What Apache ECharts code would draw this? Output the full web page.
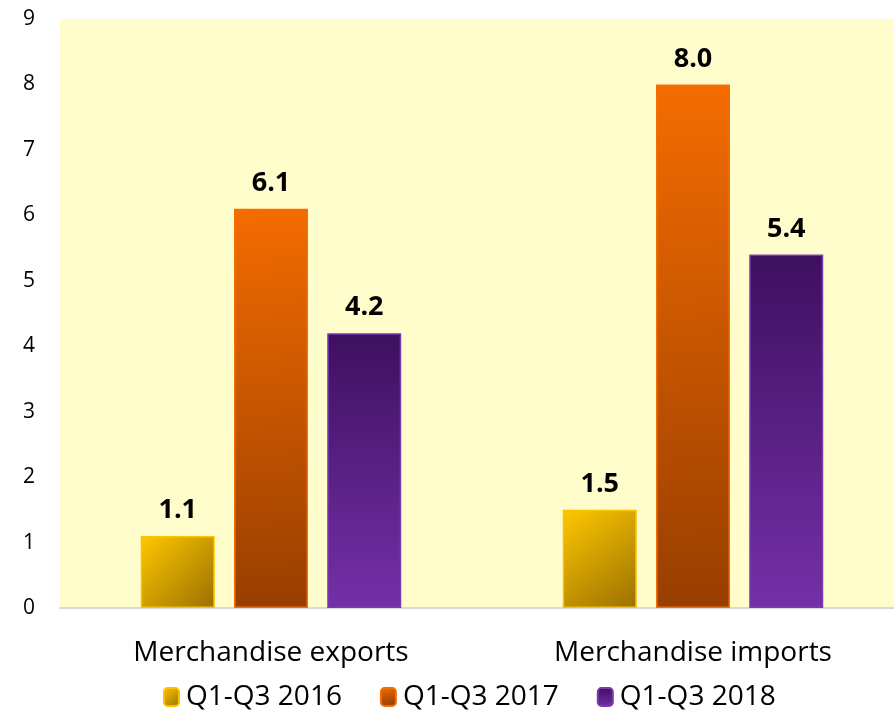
<!DOCTYPE html>
<html lang="en">
<head>
  <meta charset="UTF-8">
  <title>Merchandise trade</title>
  <style>
    html, body { margin: 0; padding: 0; background: #fff; }
    #chart { width: 894px; height: 712px; }
  </style>
</head>
<body>
  <div id="chart"></div>
  <script src="https://cdn.jsdelivr.net/npm/echarts@6/dist/echarts.min.js"></script>
  <script>
    const categories = ['Merchandise exports', 'Merchandise imports']
    const seriesNames = ['Q1-Q3 2016', 'Q1-Q3 2017', 'Q1-Q3 2018']
    const values2016 = [1.1, 1.5]
    const values2017 = [6.1, 8.0]
    const values2018 = [4.2, 5.4]

    const font = '"Open Sans", "Noto Sans", sans-serif'

    // gradients for each series
    const fills = [
      new echarts.graphic.LinearGradient(0, 0, 1, 1, [
        { offset: 0, color: '#ffc800' },
        { offset: 1, color: '#9a7000' }
      ]),
      new echarts.graphic.LinearGradient(0, 0, 0.3, 1, [
        { offset: 0, color: '#f46c00' },
        { offset: 1, color: '#983e00' }
      ]),
      new echarts.graphic.LinearGradient(0, 0, 0, 1, [
        { offset: 0, color: '#3e1060' },
        { offset: 1, color: '#7430a8' }
      ])
    ]
    const borders = ['#ffc000', '#f07000', '#7a3aaa']

    const data = [values2016, values2017, values2018]

    const chart = echarts.init(document.getElementById('chart'))

    chart.setOption({
      animation: false,
      grid: {
        left: 60, width: 844, top: 19, bottom: 104,
        outerBoundsMode: 'none',
        show: true, backgroundColor: '#fffdcc', borderWidth: 0
      },
      legend: {
        top: 678,
        left: 158,
        itemWidth: 15, itemHeight: 18,
        itemGap: 38,
        textStyle: { fontFamily: font, fontSize: 28, color: '#000', padding: [0, 0, 0, 2] },
        data: seriesNames
      },
      xAxis: {
        type: 'category',
        data: categories,
        axisLine: { lineStyle: { color: '#d9d9d9', width: 2 } },
        axisTick: { show: false },
        axisLabel: { fontFamily: font, fontSize: 28, color: '#000', margin: 31 }
      },
      yAxis: {
        type: 'value',
        min: 0, max: 9, interval: 1,
        splitLine: { show: false },
        axisLine: { show: false },
        axisTick: { show: false },
        axisLabel: { fontFamily: font, fontSize: 21, color: '#000', margin: 25 }
      },
      series: seriesNames.map((name, i) => ({
        name,
        type: 'bar',
        data: data[i],
        barWidth: 74,
        barGap: '26%',
        itemStyle: { color: fills[i], borderColor: borders[i], borderWidth: 1.5 },
        label: {
          show: true,
          position: 'top',
          distance: 12,
          formatter: p => p.value.toFixed(1),
          fontFamily: font, fontSize: 27, fontWeight: 'bold', color: '#000'
        }
      }))
    })
  </script>
</body>
</html>
